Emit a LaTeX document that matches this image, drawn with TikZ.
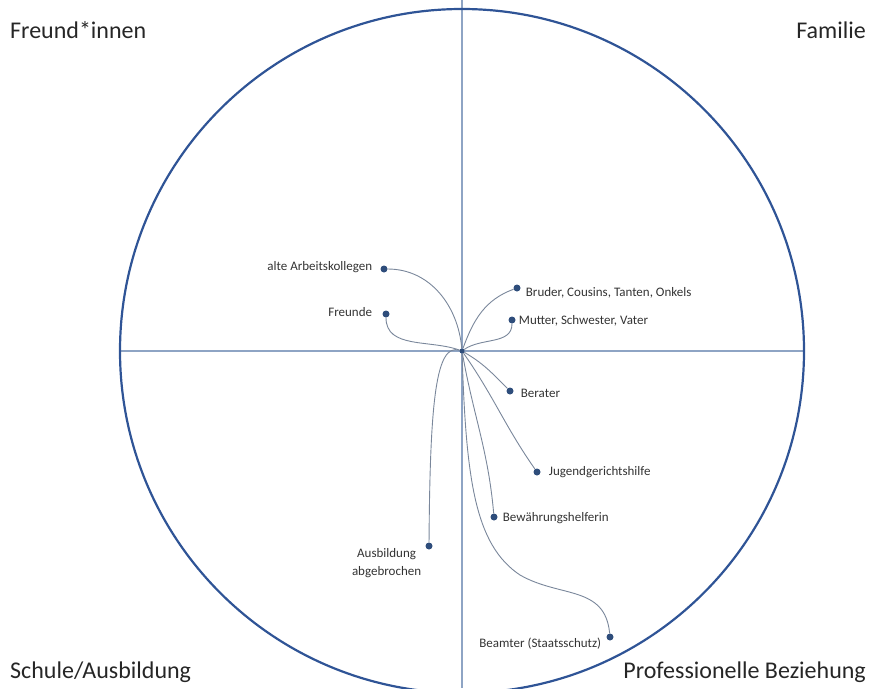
\documentclass[tikz,border=0pt]{standalone}
\usepackage{fontspec}
\setmainfont{Carlito}
\usetikzlibrary{positioning}
\definecolor{ringblue}{HTML}{2F5496}
\definecolor{axisblue}{HTML}{8EA4C4}
\definecolor{linkgray}{HTML}{7A879B}
\definecolor{dotblue}{HTML}{2E4D7B}
\begin{document}
\begin{tikzpicture}[x=1pt,y=-1pt,
    dot/.style={circle,fill=dotblue,inner sep=0pt,minimum size=7pt},
    lbl/.style={inner sep=0pt,font=\fontsize{13pt}{17.5pt}\selectfont,text=black!80},
    quad/.style={inner sep=0pt,font=\fontsize{24pt}{28pt}\selectfont,text=black!85},
    link/.style={draw=linkgray,line width=0.9pt}]
      \useasboundingbox (0,0) rectangle (870,688);
      \clip (0,0) rectangle (870,688);
      % ring and axes
      \draw[axisblue,line width=1.1pt] (462,0) -- (462,688);
      \draw[axisblue,line width=1.1pt] (120,351) -- (804,351);
      \draw[ringblue,line width=2.2pt] (462,351) circle (342);
      % quadrants
      \node[quad,anchor=west] (fr) at (10,30) {Freund*innen};
      \node[quad,anchor=east] (fa) at (866,30) {Familie};
      \node[quad,anchor=west] (sc) at (10,672) {Schule/Ausbildung};
      \node[quad,anchor=east] (pr) at (866,672) {Professionelle Beziehung};
      % persons
      \node[dot,minimum size=5pt] (ego) at (462,351) {};
      \node[dot] (ak) at (384,269) {};
      \node[dot] (fd) at (386,314) {};
      \node[dot] (br) at (517,288) {};
      \node[dot] (mu) at (512,320) {};
      \node[dot] (be) at (510,391) {};
      \node[dot] (jg) at (537,472) {};
      \node[dot] (bw) at (494,517) {};
      \node[dot] (au) at (429,546) {};
      \node[dot] (bs) at (610,637) {};
      \node[lbl,left=8pt of ak,yshift=2pt] (akl) {alte Arbeitskollegen};
      \node[lbl,left=10pt of fd,yshift=2pt] (fdl) {Freunde};
      \node[lbl,right=5pt of br,yshift=-5pt] (brl) {Bruder, Cousins, Tanten, Onkels};
      \node[lbl,right=3pt of mu,yshift=-1pt] (mul) {Mutter, Schwester, Vater};
      \node[lbl,right=7pt of be,yshift=-2pt] (bel) {Berater};
      \node[lbl,right=8pt of jg] (jgl) {Jugendgerichtshilfe};
      \node[lbl,right=5pt of bw,yshift=-1pt] (bwl) {Bewährungshelferin};
      \node[lbl,align=center,below left=0pt and 5pt of au] (aul) {Ausbildung\\abgebrochen};
      \node[lbl,left=5pt of bs,yshift=-7pt] (bsl) {Beamter (Staatsschutz)};
      \begin{scope}[link]
        \draw (ak) to[out=0,in=95] (ego);
        \draw (fd) to[out=-90,in=160] (ego);
        \draw (br) to[out=200,in=70] (ego);
        \draw (mu) to[out=-90,in=35] (ego);
        \draw (be) to[out=135,in=-30] (ego);
        \draw (jg) to[out=125,in=-55] (ego);
        \draw (bw) to[out=95,in=-80] (ego);
        \draw (au) .. controls (430,400) and (436,343) .. (ego);
        \draw (ego) .. controls (466,480) and (475,545) .. (520,575)
                    .. controls (560,598) and (605,585) .. (bs);
      \end{scope}
\end{tikzpicture}
\end{document}
